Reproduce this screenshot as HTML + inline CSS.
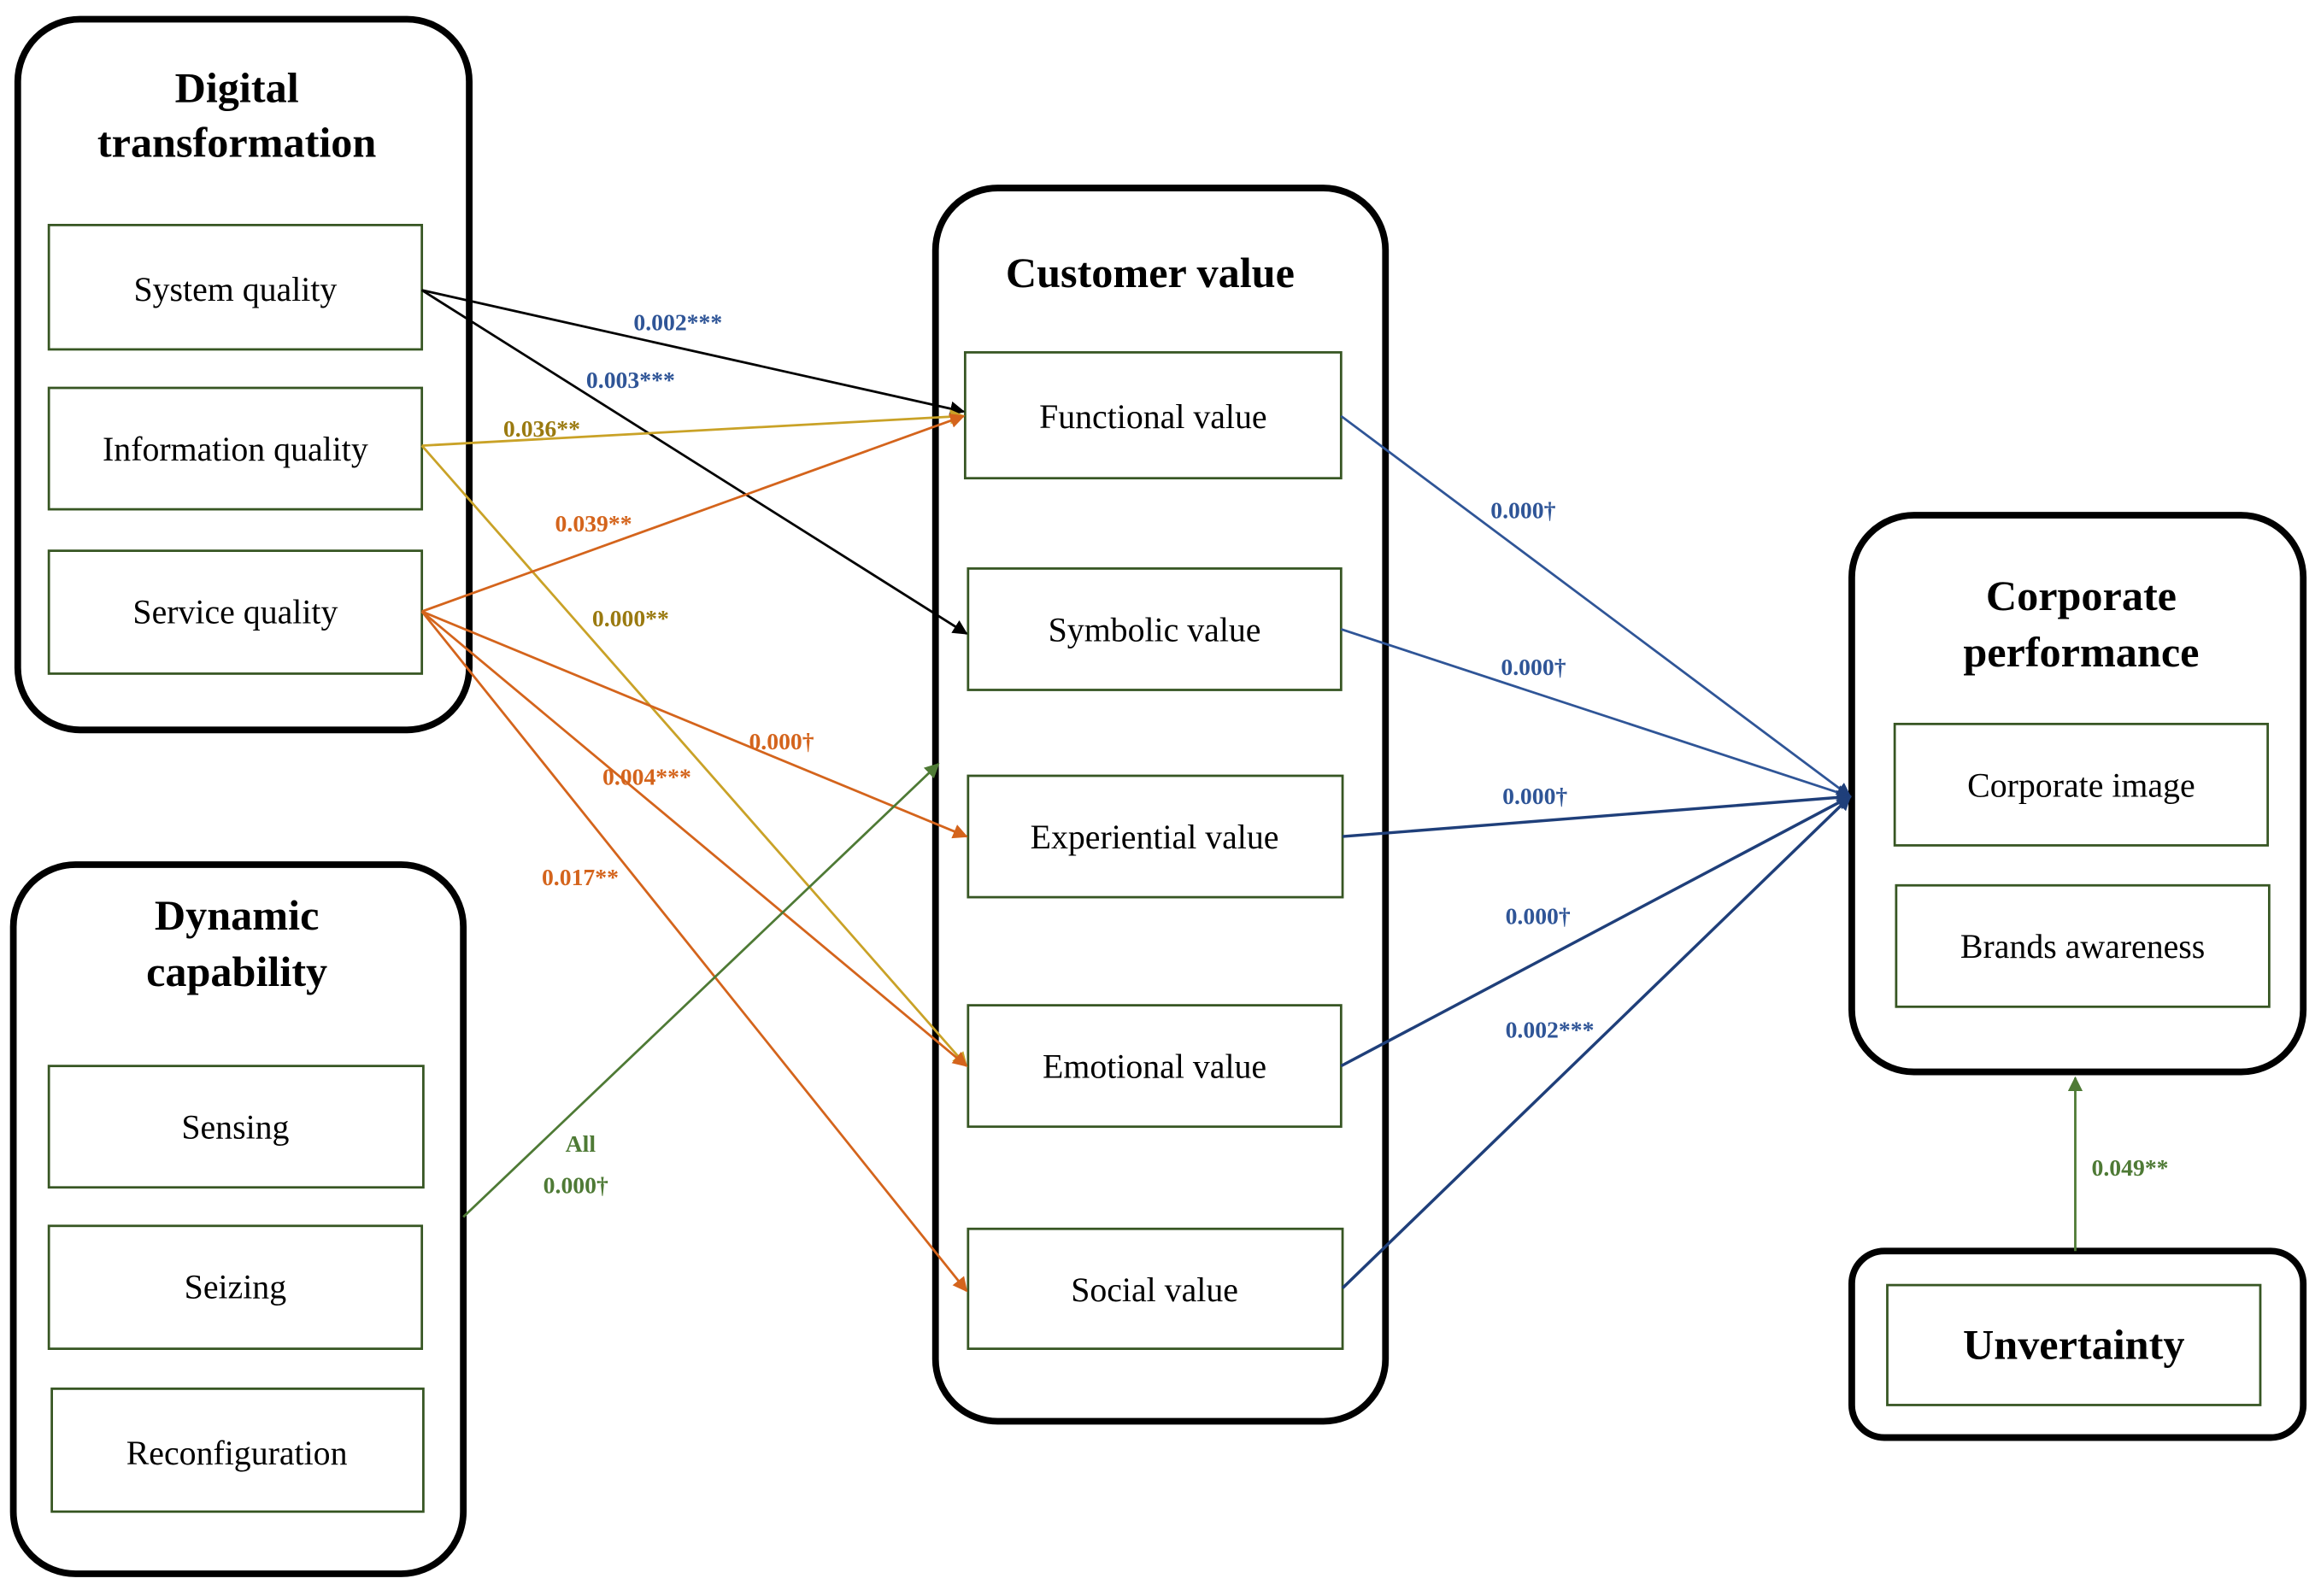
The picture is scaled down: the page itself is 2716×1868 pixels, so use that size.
<!DOCTYPE html>
<html><head><meta charset="utf-8"><style>html,body{margin:0;padding:0;background:#fff}svg{display:block}</style></head>
<body>
<svg width="2716" height="1868" viewBox="0 0 1568 1078" preserveAspectRatio="none" xmlns="http://www.w3.org/2000/svg" font-family="Liberation Serif, serif">
<defs>
<marker id="ak" markerWidth="10" markerHeight="10" refX="9" refY="5" orient="auto" markerUnits="userSpaceOnUse"><path d="M0,0 L10,5 L0,10 z" fill="#000"/></marker>
<marker id="ag" markerWidth="10" markerHeight="10" refX="9" refY="5" orient="auto" markerUnits="userSpaceOnUse"><path d="M0,0 L10,5 L0,10 z" fill="#c9a227"/></marker>
<marker id="ao" markerWidth="10" markerHeight="10" refX="9" refY="5" orient="auto" markerUnits="userSpaceOnUse"><path d="M0,0 L10,5 L0,10 z" fill="#d4641c"/></marker>
<marker id="agr" markerWidth="10" markerHeight="10" refX="9" refY="5" orient="auto" markerUnits="userSpaceOnUse"><path d="M0,0 L10,5 L0,10 z" fill="#4e7a35"/></marker>
<marker id="ab" markerWidth="10" markerHeight="10" refX="9" refY="5" orient="auto" markerUnits="userSpaceOnUse"><path d="M0,0 L10,5 L0,10 z" fill="#1f3f7a"/></marker>
</defs>
<g fill="none" stroke="#000" stroke-width="4.5">
<rect x="12" y="13" width="305" height="480" rx="42"/>
<rect x="9" y="584" width="304" height="479" rx="42"/>
<rect x="632" y="127" width="304" height="833" rx="42"/>
<rect x="1251" y="348" width="305" height="376" rx="42"/>
<rect x="1251" y="845" width="305" height="126" rx="22"/>
</g>
<g fill="none" stroke="#375623" stroke-width="1.6">
<rect x="33" y="152" width="252" height="84"/>
<rect x="33" y="262" width="252" height="82"/>
<rect x="33" y="372" width="252" height="83"/>
<rect x="33" y="720" width="253" height="82"/>
<rect x="33" y="828" width="252" height="83"/>
<rect x="35" y="938" width="251" height="83"/>
<rect x="652" y="238" width="254" height="85"/>
<rect x="654" y="384" width="252" height="82"/>
<rect x="654" y="524" width="253" height="82"/>
<rect x="654" y="679" width="252" height="82"/>
<rect x="654" y="830" width="253" height="81"/>
<rect x="1280" y="489" width="252" height="82"/>
<rect x="1281" y="598" width="252" height="82"/>
<rect x="1275" y="868" width="252" height="81"/>
</g>
<g stroke-width="1.6" fill="none">
<line x1="285" y1="196" x2="651" y2="278" stroke="#000" marker-end="url(#ak)"/>
<line x1="285" y1="196" x2="653" y2="428" stroke="#000" marker-end="url(#ak)"/>
<line x1="285" y1="301" x2="651" y2="281" stroke="#c9a227" marker-end="url(#ag)"/>
<line x1="285" y1="301" x2="653" y2="720" stroke="#c9a227" marker-end="url(#ag)"/>
<line x1="285" y1="413" x2="651" y2="281" stroke="#d4641c" marker-end="url(#ao)"/>
<line x1="285" y1="413" x2="653" y2="565" stroke="#d4641c" marker-end="url(#ao)"/>
<line x1="285" y1="413" x2="653" y2="720" stroke="#d4641c" marker-end="url(#ao)"/>
<line x1="285" y1="413" x2="653" y2="872" stroke="#d4641c" marker-end="url(#ao)"/>
<line x1="313" y1="822" x2="634" y2="516" stroke="#4e7a35" marker-end="url(#agr)"/>
<line x1="906" y1="281" x2="1250" y2="538" stroke="#2f5597" marker-end="url(#ab)"/>
<line x1="906" y1="425" x2="1250" y2="538" stroke="#2f5597" marker-end="url(#ab)"/>
<line x1="907" y1="565" x2="1250" y2="538" stroke="#1f3f7a" stroke-width="2" marker-end="url(#ab)"/>
<line x1="906" y1="720" x2="1250" y2="538" stroke="#1f3f7a" stroke-width="2" marker-end="url(#ab)"/>
<line x1="907" y1="870" x2="1250" y2="538" stroke="#1f3f7a" stroke-width="2" marker-end="url(#ab)"/>
<line x1="1402" y1="845" x2="1402" y2="728" stroke="#4e7a35" marker-end="url(#agr)"/>
</g>
<g font-weight="bold" font-size="29" text-anchor="middle" fill="#000">
<text x="160" y="69">Digital</text><text x="160" y="106">transformation</text>
<text x="160" y="628">Dynamic</text><text x="160" y="666">capability</text>
<text x="777" y="194">Customer value</text>
<text x="1406" y="412">Corporate</text><text x="1406" y="450">performance</text>
<text x="1401" y="918">Unvertainty</text>
</g>
<g font-size="23" text-anchor="middle" fill="#000">
<text x="159" y="203">System quality</text>
<text x="159" y="311">Information quality</text>
<text x="159" y="421">Service quality</text>
<text x="159" y="769">Sensing</text>
<text x="159" y="877">Seizing</text>
<text x="160" y="989">Reconfiguration</text>
<text x="779" y="289">Functional value</text>
<text x="780" y="433">Symbolic value</text>
<text x="780" y="573">Experiential value</text>
<text x="780" y="728">Emotional value</text>
<text x="780" y="879">Social value</text>
<text x="1406" y="538">Corporate image</text>
<text x="1407" y="647">Brands awareness</text>
</g>
<g font-weight="bold" font-size="16">
<text x="428" y="223" fill="#2f5597">0.002***</text>
<text x="396" y="262" fill="#2f5597">0.003***</text>
<text x="340" y="295" fill="#9a7a10">0.036**</text>
<text x="375" y="359" fill="#d4641c">0.039**</text>
<text x="400" y="423" fill="#9a7a10">0.000**</text>
<text x="506" y="506" fill="#d4641c">0.000†</text>
<text x="407" y="530" fill="#d4641c">0.004***</text>
<text x="366" y="598" fill="#d4641c">0.017**</text>
<text x="382" y="778" fill="#4e7a35">All</text>
<text x="367" y="806" fill="#4e7a35">0.000†</text>
<text x="1007" y="350" fill="#2f5597">0.000†</text>
<text x="1014" y="456" fill="#2f5597">0.000†</text>
<text x="1015" y="543" fill="#2f5597">0.000†</text>
<text x="1017" y="624" fill="#2f5597">0.000†</text>
<text x="1017" y="701" fill="#2f5597">0.002***</text>
<text x="1413" y="794" fill="#4e7a35">0.049**</text>
</g>
</svg>
</body></html>
